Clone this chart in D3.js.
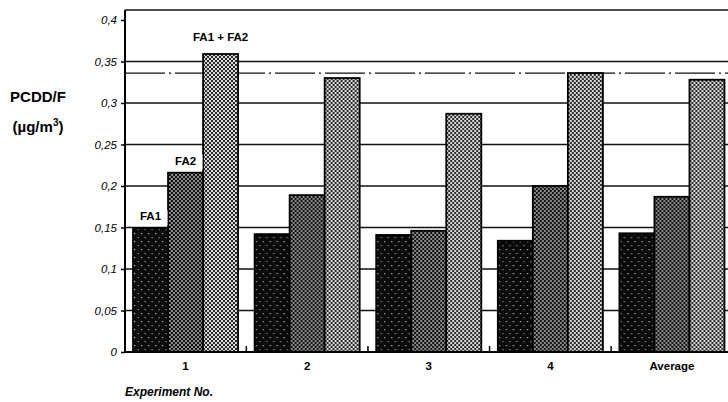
<!DOCTYPE html>
<html>
<head>
<meta charset="utf-8">
<script src="https://cdn.jsdelivr.net/npm/d3@7/dist/d3.min.js"></script>
<style>
  body { margin: 0; background: #fff; }
  svg { display: block; font-family: Arial, "Liberation Sans", sans-serif; }
</style>
</head>
<body>
<svg id="chart" width="728" height="402"></svg>
<script>
// values
const experiments = ['1', '2', '3', '4', 'Average']
const seriesNames = ['FA1', 'FA2', 'FA1+FA2']
const fa1 = [0.149, 0.142, 0.141, 0.134, 0.143]
const fa2 = [0.216, 0.189, 0.146, 0.200, 0.187]
const fa12 = [0.359, 0.330, 0.287, 0.336, 0.328]
const yTicks = [0, 0.05, 0.1, 0.15, 0.2, 0.25, 0.3, 0.35, 0.4]
const refLine = 0.336

const svg = d3.select('#chart')
const margin = { left: 125, top: 10, bottom: 50 }

const x = d3.scaleBand()
    .domain(experiments)
    .range([margin.left, margin.left + 5 * 121.5])
    .paddingInner(16.5 / 121.5)
    .paddingOuter(8 / 121.5)
const xs = d3.scaleBand().domain(seriesNames).range([0, x.bandwidth()])
const y = d3.scaleLinear().domain([0, 0.412]).range([352, margin.top])

// fill patterns
const defs = svg.append('defs')
function checker(id, bg, fg) {
    const p = defs.append('pattern').attr('id', id)
        .attr('width', 4).attr('height', 4).attr('patternUnits', 'userSpaceOnUse')
    p.append('rect').attr('width', 4).attr('height', 4).attr('fill', bg)
    p.append('rect').attr('width', 2).attr('height', 2).attr('fill', fg)
    p.append('rect').attr('x', 2).attr('y', 2).attr('width', 2).attr('height', 2).attr('fill', fg)
}
const pd = defs.append('pattern').attr('id', 'pFA1')
    .attr('width', 7).attr('height', 8).attr('patternUnits', 'userSpaceOnUse')
pd.append('rect').attr('width', 7).attr('height', 8).attr('fill', '#0a0a0a')
pd.append('rect').attr('x', 1).attr('y', 1).attr('width', 1.2).attr('height', 1.2).attr('fill', '#bbb')
pd.append('rect').attr('x', 4.5).attr('y', 5).attr('width', 1.2).attr('height', 1.2).attr('fill', '#999')
checker('pFA2', '#111', '#8a8a8a')
checker('pFA12', '#2a2a2a', '#d8d8d8')
const fills = { 'FA1': 'url(#pFA1)', 'FA2': 'url(#pFA2)', 'FA1+FA2': 'url(#pFA12)' }

// grid lines
svg.append('g').selectAll('line')
    .data(yTicks.filter(d => d > 0 && d < 0.4))
    .join('line')
    .attr('x1', margin.left).attr('x2', 728)
    .attr('y1', d => y(d)).attr('y2', d => y(d))
    .attr('stroke', '#111').attr('stroke-width', 1.4)

svg.append('line')
    .attr('x1', margin.left).attr('x2', 728)
    .attr('y1', y(refLine)).attr('y2', y(refLine))
    .attr('stroke', '#111').attr('stroke-width', 1.4)
    .attr('stroke-dasharray', '40,4,2,4')

// frame top
svg.append('line')
    .attr('x1', margin.left).attr('x2', 728)
    .attr('y1', margin.top).attr('y2', margin.top)
    .attr('stroke', '#111').attr('stroke-width', 1.6)

// bars
const rows = experiments.map((e, i) => ({ exp: e, vals: [fa1[i], fa2[i], fa12[i]] }))
const groups = svg.append('g').selectAll('g')
    .data(rows)
    .join('g')
    .attr('transform', d => `translate(${x(d.exp)},0)`)

groups.selectAll('rect')
    .data(d => d.vals.map((v, j) => ({ key: seriesNames[j], v: v })))
    .join('rect')
    .attr('x', d => xs(d.key))
    .attr('width', xs.bandwidth())
    .attr('y', d => y(d.v))
    .attr('height', d => y(0) - y(d.v))
    .attr('fill', d => fills[d.key])
    .attr('stroke', '#000').attr('stroke-width', 1.8)

// small inner ticks between groups
svg.append('g').selectAll('line')
    .data(experiments.slice(1))
    .join('line')
    .attr('x1', d => x(d) - x.step() * x.paddingInner() / 2)
    .attr('x2', d => x(d) - x.step() * x.paddingInner() / 2)
    .attr('y1', y(0)).attr('y2', y(0) - 6)
    .attr('stroke', '#000').attr('stroke-width', 1.5)

// axes
const yAxis = svg.append('g')
    .attr('transform', `translate(${margin.left},0)`)
    .call(d3.axisLeft(y).tickValues(yTicks).tickSize(4)
        .tickFormat(d => d3.format('')(d).replace('.', ',')))
yAxis.select('.domain').remove()
yAxis.selectAll('line').attr('stroke-width', 1.5)
yAxis.selectAll('text')
    .attr('font-size', 11.5).attr('font-style', 'italic').attr('fill', '#000')
    .attr('x', -8)

svg.append('line')
    .attr('x1', margin.left).attr('x2', margin.left)
    .attr('y1', margin.top).attr('y2', y(0))
    .attr('stroke', '#000').attr('stroke-width', 2)
svg.append('line')
    .attr('x1', margin.left).attr('x2', 728)
    .attr('y1', y(0)).attr('y2', y(0))
    .attr('stroke', '#000').attr('stroke-width', 2.2)

const xAxis = svg.append('g')
    .attr('transform', `translate(0,${y(0)})`)
    .call(d3.axisBottom(x).tickSize(0).tickPadding(10))
xAxis.select('.domain').remove()
xAxis.selectAll('text')
    .attr('font-size', 11.5).attr('font-weight', 'bold').attr('fill', '#000')

// series labels over the first group
const labelData = seriesNames.map((s, j) => ({ name: s, v: rows[0].vals[j] }))
const labels = svg.append('g').selectAll('g')
    .data(labelData)
    .join('g')
    .attr('transform', d => `translate(${x(experiments[0]) + xs(d.name) + xs.bandwidth() / 2},${y(d.v) - 8})`)
labels.append('rect')
    .attr('x', -17).attr('y', -10).attr('width', 34).attr('height', 15)
    .attr('fill', '#fff')
    .attr('display', d => d.name === 'FA1+FA2' ? 'none' : null)
labels.append('text')
    .attr('text-anchor', 'middle')
    .attr('y', d => d.name === 'FA1+FA2' ? -5 : 0)
    .attr('font-size', 11.5).attr('font-weight', 'bold').attr('fill', '#000')
    .text(d => d.name === 'FA1+FA2' ? 'FA1 + FA2' : d.name)

// axis titles
const yTitle = svg.append('text')
    .attr('font-size', 15).attr('font-weight', 'bold').attr('fill', '#000')
    .attr('text-anchor', 'middle')
yTitle.append('tspan').attr('x', 38).attr('y', 102).text('PCDD/F')
const t2 = yTitle.append('tspan').attr('x', 38).attr('y', 132)
t2.append('tspan').text('(µg/m')
t2.append('tspan').attr('dy', -6).attr('font-size', 10).text('3')
t2.append('tspan').attr('dy', 6).text(')')

svg.append('text')
    .attr('x', margin.left).attr('y', 396)
    .attr('font-size', 12).attr('font-weight', 'bold').attr('font-style', 'italic')
    .attr('fill', '#000')
    .text('Experiment No.')
</script>
</body>
</html>
